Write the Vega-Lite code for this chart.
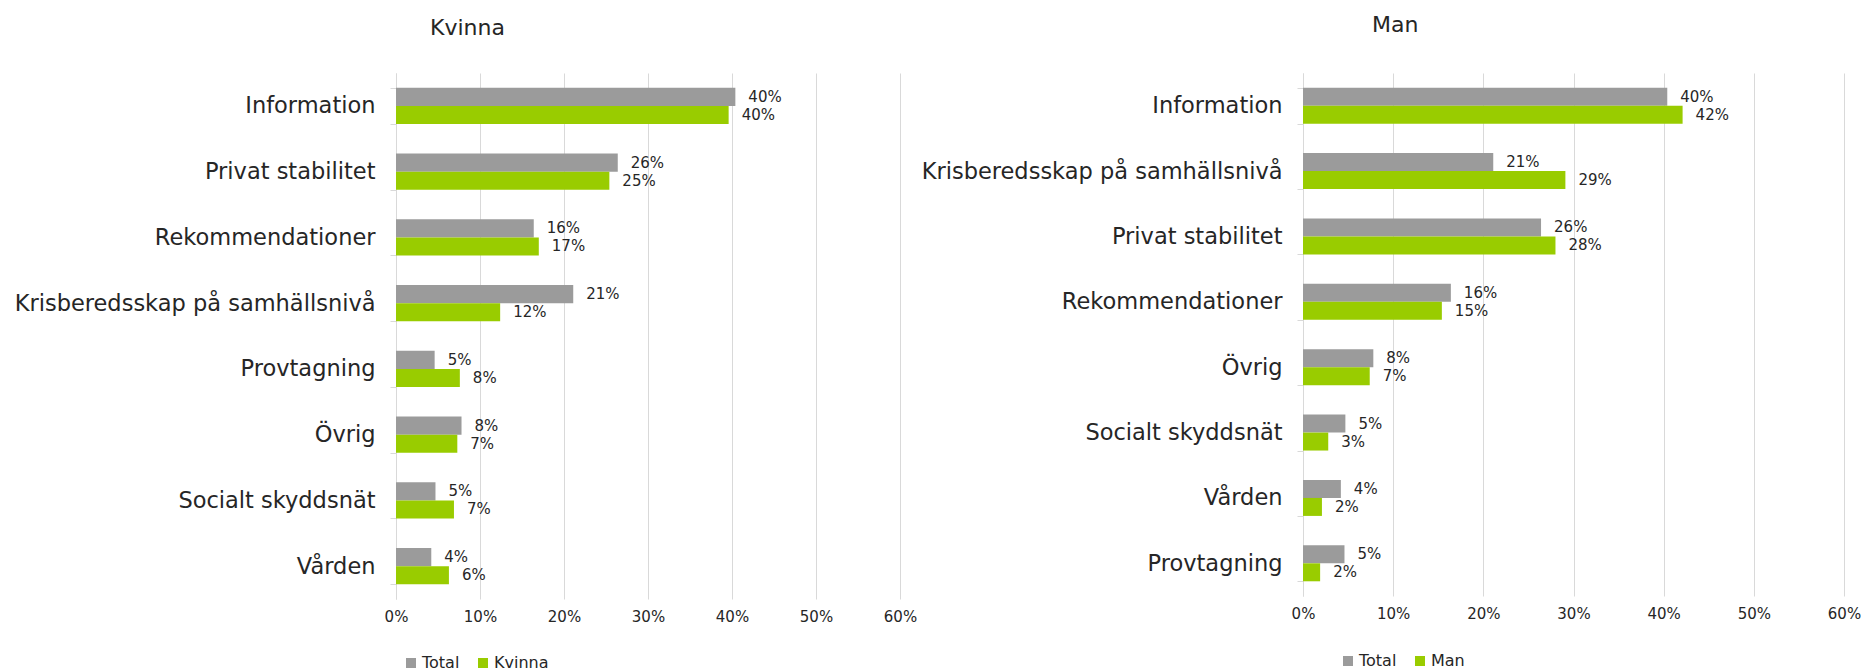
{
  "$schema": "https://vega.github.io/schema/vega-lite/v6.json",
  "background": "white",
  "padding": {"left": 13, "top": 14, "right": 0, "bottom": 0},
  "spacing": 3,
  "config": {
    "font": "DejaVu Sans",
    "view": {"stroke": null},
    "axis": {"labelColor": "#262626", "titleColor": "#262626"},
    "legend": {"labelColor": "#262626"},
    "title": {"color": "#262626", "fontWeight": "normal", "fontSize": 22}
  },
  "datasets": {
    "kvinna": [
      {"kategori": "Information", "serie": "Total", "andel": 0.404},
      {"kategori": "Information", "serie": "Kvinna", "andel": 0.396},
      {"kategori": "Privat stabilitet", "serie": "Total", "andel": 0.264},
      {"kategori": "Privat stabilitet", "serie": "Kvinna", "andel": 0.254},
      {"kategori": "Rekommendationer", "serie": "Total", "andel": 0.164},
      {"kategori": "Rekommendationer", "serie": "Kvinna", "andel": 0.170},
      {"kategori": "Krisberedsskap på samhällsnivå", "serie": "Total", "andel": 0.211},
      {"kategori": "Krisberedsskap på samhällsnivå", "serie": "Kvinna", "andel": 0.124},
      {"kategori": "Provtagning", "serie": "Total", "andel": 0.046},
      {"kategori": "Provtagning", "serie": "Kvinna", "andel": 0.076},
      {"kategori": "Övrig", "serie": "Total", "andel": 0.078},
      {"kategori": "Övrig", "serie": "Kvinna", "andel": 0.073},
      {"kategori": "Socialt skyddsnät", "serie": "Total", "andel": 0.047},
      {"kategori": "Socialt skyddsnät", "serie": "Kvinna", "andel": 0.069},
      {"kategori": "Vården", "serie": "Total", "andel": 0.042},
      {"kategori": "Vården", "serie": "Kvinna", "andel": 0.063}
    ],
    "man": [
      {"kategori": "Information", "serie": "Total", "andel": 0.404},
      {"kategori": "Information", "serie": "Man", "andel": 0.421},
      {"kategori": "Krisberedsskap på samhällsnivå", "serie": "Total", "andel": 0.211},
      {"kategori": "Krisberedsskap på samhällsnivå", "serie": "Man", "andel": 0.291},
      {"kategori": "Privat stabilitet", "serie": "Total", "andel": 0.264},
      {"kategori": "Privat stabilitet", "serie": "Man", "andel": 0.280},
      {"kategori": "Rekommendationer", "serie": "Total", "andel": 0.164},
      {"kategori": "Rekommendationer", "serie": "Man", "andel": 0.154},
      {"kategori": "Övrig", "serie": "Total", "andel": 0.078},
      {"kategori": "Övrig", "serie": "Man", "andel": 0.074},
      {"kategori": "Socialt skyddsnät", "serie": "Total", "andel": 0.047},
      {"kategori": "Socialt skyddsnät", "serie": "Man", "andel": 0.028},
      {"kategori": "Vården", "serie": "Total", "andel": 0.042},
      {"kategori": "Vården", "serie": "Man", "andel": 0.021},
      {"kategori": "Provtagning", "serie": "Total", "andel": 0.046},
      {"kategori": "Provtagning", "serie": "Man", "andel": 0.019}
    ]
  },
  "resolve": {"scale": {"x": "independent", "y": "independent", "yOffset": "independent", "color": "independent"}},
  "hconcat": [
    {
      "width": 504,
      "height": 526,
      "title": {"text": "Kvinna", "anchor": "start", "frame": "group", "dx": 34, "offset": 22},
      "data": {"name": "kvinna"},
      "encoding": {
        "y": {
          "field": "kategori", "type": "nominal",
          "sort": ["Information", "Privat stabilitet", "Rekommendationer", "Krisberedsskap på samhällsnivå", "Provtagning", "Övrig", "Socialt skyddsnät", "Vården"],
          "scale": {"paddingInner": 0.45, "paddingOuter": 0.225},
          "axis": {"title": null, "labelFontSize": 22.5, "labelLimit": 0, "labelPadding": 15, "tickSize": 6, "tickBand": "extent", "tickColor": "#D9D9D9", "domainColor": "#D9D9D9", "grid": false, "minExtent": 383, "maxExtent": 383}
        },
        "yOffset": {"field": "serie", "type": "nominal", "sort": ["Total", "Kvinna"], "scale": {"paddingInner": 0, "paddingOuter": 0}},
        "x": {
          "field": "andel", "type": "quantitative",
          "scale": {"domain": [0, 0.6], "nice": false},
          "axis": {"title": null, "format": ".0%", "values": [0, 0.1, 0.2, 0.3, 0.4, 0.5, 0.6], "labelFontSize": 15, "labelPadding": 10, "ticks": false, "domain": false, "grid": true, "gridColor": "#D9D9D9", "labelFlush": false}
        }
      },
      "layer": [
        {
          "mark": {"type": "bar"},
          "encoding": {
            "color": {
              "field": "serie", "type": "nominal",
              "scale": {"domain": ["Total", "Kvinna"], "range": ["#9B9B9B", "#99CC00"]},
              "legend": {"title": null, "orient": "none", "legendX": 7, "legendY": 582, "direction": "horizontal", "symbolType": "square", "symbolSize": 100, "symbolStrokeWidth": 0, "labelFontSize": 16, "labelOffset": 3, "columnPadding": 15, "padding": 0}
            }
          }
        },
        {
          "mark": {"type": "text", "align": "left", "baseline": "middle", "dx": 13, "fontSize": 15, "color": "#262626"},
          "encoding": {"text": {"field": "andel", "type": "quantitative", "format": ".0%"}}
        }
      ]
    },
    {
      "width": 541,
      "height": 523,
      "title": {"text": "Man", "anchor": "start", "frame": "group", "dx": 69, "offset": 25},
      "data": {"name": "man"},
      "encoding": {
        "y": {
          "field": "kategori", "type": "nominal",
          "sort": ["Information", "Krisberedsskap på samhällsnivå", "Privat stabilitet", "Rekommendationer", "Övrig", "Socialt skyddsnät", "Vården", "Provtagning"],
          "scale": {"paddingInner": 0.45, "paddingOuter": 0.225},
          "axis": {"title": null, "labelFontSize": 22.5, "labelLimit": 0, "labelPadding": 15, "tickSize": 6, "tickBand": "extent", "tickColor": "#D9D9D9", "domainColor": "#D9D9D9", "grid": false, "minExtent": 383, "maxExtent": 383}
        },
        "yOffset": {"field": "serie", "type": "nominal", "sort": ["Total", "Man"], "scale": {"paddingInner": 0, "paddingOuter": 0}},
        "x": {
          "field": "andel", "type": "quantitative",
          "scale": {"domain": [0, 0.6], "nice": false},
          "axis": {"title": null, "format": ".0%", "values": [0, 0.1, 0.2, 0.3, 0.4, 0.5, 0.6], "labelFontSize": 15, "labelPadding": 10, "ticks": false, "domain": false, "grid": true, "gridColor": "#D9D9D9", "labelFlush": false}
        }
      },
      "layer": [
        {
          "mark": {"type": "bar"},
          "encoding": {
            "color": {
              "field": "serie", "type": "nominal",
              "scale": {"domain": ["Total", "Man"], "range": ["#9B9B9B", "#99CC00"]},
              "legend": {"title": null, "orient": "none", "legendX": 37, "legendY": 580, "direction": "horizontal", "symbolType": "square", "symbolSize": 100, "symbolStrokeWidth": 0, "labelFontSize": 16, "labelOffset": 3, "columnPadding": 15, "padding": 0}
            }
          }
        },
        {
          "mark": {"type": "text", "align": "left", "baseline": "middle", "dx": 13, "fontSize": 15, "color": "#262626"},
          "encoding": {"text": {"field": "andel", "type": "quantitative", "format": ".0%"}}
        }
      ]
    }
  ]
}
